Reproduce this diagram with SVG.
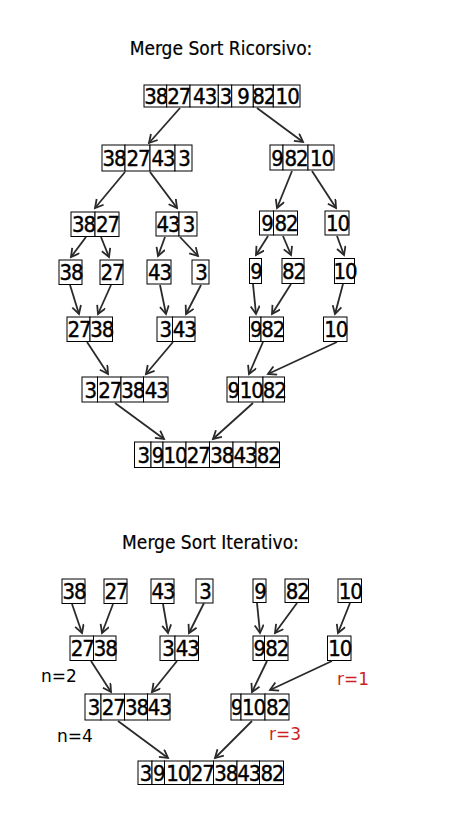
<svg xmlns="http://www.w3.org/2000/svg" width="463" height="836" viewBox="0 0 463 836">
<style>
.c{fill:#fff;stroke:#000;stroke-width:1}
.d{font-family:"DejaVu Sans Condensed","DejaVu Sans",sans-serif;font-stretch:condensed;font-size:22px;letter-spacing:-1px;fill:#000;stroke:#000;stroke-width:0.4;text-anchor:middle}
.t{font-family:"DejaVu Sans Condensed","DejaVu Sans",sans-serif;font-stretch:condensed;font-size:19px;fill:#000;stroke:#000;stroke-width:0.2;text-anchor:middle}
.l{font-family:"DejaVu Sans",sans-serif;font-size:17px;fill:#000}
.r{fill:#cc1f1f}
.a{fill:none;stroke:#2a2a2a;stroke-width:1.8;marker-end:url(#ah)}
</style>
<defs>
<marker id="ah" markerUnits="userSpaceOnUse" markerWidth="12" markerHeight="12" refX="9" refY="5" orient="auto">
<path d="M1,0.5 L9,5 L1,9.5" fill="none" stroke="#2a2a2a" stroke-width="1.8"/>
</marker>
</defs>
<rect width="463" height="836" fill="#fff"/>
<text class="t" x="221" y="55">Merge Sort Ricorsivo:</text>
<text class="t" x="210.5" y="549">Merge Sort Iterativo:</text>

<!-- Ricorsivo -->
<g id="r0">
<rect class="c" x="144" y="85" width="22.7" height="22"/><text class="d" x="155.8" y="104">38</text>
<rect class="c" x="166.7" y="85" width="23.3" height="22"/><text class="d" x="178.8" y="104">27</text>
<rect class="c" x="190" y="85" width="28.3" height="22"/><text class="d" x="204.7" y="104">43</text>
<rect class="c" x="218.3" y="85" width="13.4" height="22"/><text class="d" x="225.5" y="104">3</text>
<rect class="c" x="231.7" y="85" width="21.6" height="22"/><text class="d" x="243" y="104">9</text>
<rect class="c" x="253.3" y="85" width="20" height="22"/><text class="d" x="263.8" y="104">82</text>
<rect class="c" x="273.3" y="85" width="26.7" height="22"/><text class="d" x="287.2" y="104">10</text>
</g>
<g id="r1a">
<rect class="c" x="102" y="145" width="23" height="26"/><text class="d" x="114" y="166">38</text>
<rect class="c" x="125" y="145" width="25" height="26"/><text class="d" x="138" y="166">27</text>
<rect class="c" x="150" y="145" width="25" height="26"/><text class="d" x="163" y="166">43</text>
<rect class="c" x="175" y="145" width="17" height="26"/><text class="d" x="184" y="166">3</text>
</g>
<g id="r1b">
<rect class="c" x="270" y="145" width="13" height="25"/><text class="d" x="277" y="165.5">9</text>
<rect class="c" x="283" y="145" width="25" height="25"/><text class="d" x="296" y="165.5">82</text>
<rect class="c" x="308" y="145" width="26" height="25"/><text class="d" x="321.5" y="165.5">10</text>
</g>
<g id="r2a">
<rect class="c" x="71" y="212" width="24" height="24.5"/><text class="d" x="83.5" y="232.3">38</text>
<rect class="c" x="95" y="212" width="24" height="24.5"/><text class="d" x="107.5" y="232.3">27</text>
</g>
<g id="r2b">
<rect class="c" x="156" y="212" width="23" height="24"/><text class="d" x="168" y="232">43</text>
<rect class="c" x="179" y="212" width="18" height="24"/><text class="d" x="188.5" y="232">3</text>
</g>
<g id="r2c">
<rect class="c" x="259.5" y="211" width="14" height="24"/><text class="d" x="267" y="231">9</text>
<rect class="c" x="273.5" y="211" width="24" height="24"/><text class="d" x="286" y="231">82</text>
</g>
<g id="r2d">
<rect class="c" x="325" y="211" width="24" height="24"/><text class="d" x="337.5" y="231">10</text>
</g>
<g id="r3a"><rect class="c" x="59" y="260" width="23" height="24.5"/><text class="d" x="71" y="280.3">38</text></g>
<g id="r3b"><rect class="c" x="100" y="260" width="23" height="24.5"/><text class="d" x="112" y="280.3">27</text></g>
<g id="r3c"><rect class="c" x="147" y="260" width="24" height="24"/><text class="d" x="159.5" y="280">43</text></g>
<g id="r3d"><rect class="c" x="192" y="260" width="17" height="24"/><text class="d" x="201" y="280">3</text></g>
<g id="r3e"><rect class="c" x="249.5" y="258.5" width="12" height="25"/><text class="d" x="256" y="279">9</text></g>
<g id="r3f"><rect class="c" x="282" y="258.5" width="22" height="25"/><text class="d" x="293.5" y="279">82</text></g>
<g id="r3g"><rect class="c" x="334.5" y="258.5" width="20" height="25"/><text class="d" x="345" y="279">10</text></g>
<g id="r4a">
<rect class="c" x="67" y="317" width="23" height="24.5"/><text class="d" x="79" y="337.3">27</text>
<rect class="c" x="90" y="317" width="22.5" height="24.5"/><text class="d" x="101.8" y="337.3">38</text>
</g>
<g id="r4b">
<rect class="c" x="157" y="317" width="15.5" height="24.5"/><text class="d" x="165.3" y="337.3">3</text>
<rect class="c" x="172.5" y="317" width="22.5" height="24.5"/><text class="d" x="184.3" y="337.3">43</text>
</g>
<g id="r4c">
<rect class="c" x="249.5" y="317" width="11.5" height="24.5"/><text class="d" x="255.8" y="337.3">9</text>
<rect class="c" x="261" y="317" width="22.5" height="24.5"/><text class="d" x="272.8" y="337.3">82</text>
</g>
<g id="r4d"><rect class="c" x="323.5" y="317" width="23.5" height="24.5"/><text class="d" x="335.8" y="337.3">10</text></g>
<g id="r5a">
<rect class="c" x="82" y="377" width="15.5" height="25"/><text class="d" x="90.3" y="397.5">3</text>
<rect class="c" x="97.5" y="377" width="23.5" height="25"/><text class="d" x="109.8" y="397.5">27</text>
<rect class="c" x="121" y="377" width="22.5" height="25"/><text class="d" x="132.8" y="397.5">38</text>
<rect class="c" x="143.5" y="377" width="24.5" height="25"/><text class="d" x="156.3" y="397.5">43</text>
</g>
<g id="r5b">
<rect class="c" x="227" y="377" width="11.5" height="25"/><text class="d" x="233.3" y="397.5">9</text>
<rect class="c" x="238.5" y="377" width="24.5" height="25"/><text class="d" x="251.3" y="397.5">10</text>
<rect class="c" x="263" y="377" width="21.5" height="25"/><text class="d" x="274.3" y="397.5">82</text>
</g>
<g id="r6">
<rect class="c" x="134.5" y="442" width="16.5" height="25.5"/><text class="d" x="143.3" y="462.8">3</text>
<rect class="c" x="151" y="442" width="12" height="25.5"/><text class="d" x="157.5" y="462.8">9</text>
<rect class="c" x="163" y="442" width="23" height="25.5"/><text class="d" x="175" y="462.8">10</text>
<rect class="c" x="186" y="442" width="23.5" height="25.5"/><text class="d" x="198.3" y="462.8">27</text>
<rect class="c" x="209.5" y="442" width="23.5" height="25.5"/><text class="d" x="221.8" y="462.8">38</text>
<rect class="c" x="233" y="442" width="23" height="25.5"/><text class="d" x="245" y="462.8">43</text>
<rect class="c" x="256" y="442" width="23.5" height="25.5"/><text class="d" x="268.3" y="462.8">82</text>
</g>

<!-- Iterativo -->
<g id="i0a"><rect class="c" x="62" y="579" width="23" height="24.5"/><text class="d" x="74" y="599.3">38</text></g>
<g id="i0b"><rect class="c" x="104" y="579" width="23" height="24.5"/><text class="d" x="116" y="599.3">27</text></g>
<g id="i0c"><rect class="c" x="151" y="579" width="23" height="24.5"/><text class="d" x="163" y="599.3">43</text></g>
<g id="i0d"><rect class="c" x="196" y="579" width="17" height="24"/><text class="d" x="205" y="599">3</text></g>
<g id="i0e"><rect class="c" x="253" y="579" width="13" height="23.5"/><text class="d" x="260" y="598.8">9</text></g>
<g id="i0f"><rect class="c" x="285" y="579" width="23.5" height="23.5"/><text class="d" x="297.3" y="598.8">82</text></g>
<g id="i0g"><rect class="c" x="338" y="579" width="23.5" height="23.5"/><text class="d" x="350.3" y="598.8">10</text></g>
<g id="i1a">
<rect class="c" x="70" y="636" width="23.5" height="24.5"/><text class="d" x="82.3" y="656.3">27</text>
<rect class="c" x="93.5" y="636" width="22.5" height="24.5"/><text class="d" x="105.3" y="656.3">38</text>
</g>
<g id="i1b">
<rect class="c" x="160" y="636" width="15" height="24.5"/><text class="d" x="168" y="656.3">3</text>
<rect class="c" x="175" y="636" width="23.5" height="24.5"/><text class="d" x="187.3" y="656.3">43</text>
</g>
<g id="i1c">
<rect class="c" x="253" y="636" width="11.5" height="24.5"/><text class="d" x="259.3" y="656.3">9</text>
<rect class="c" x="264.5" y="636" width="23.5" height="24.5"/><text class="d" x="276.8" y="656.3">82</text>
</g>
<g id="i1d"><rect class="c" x="327.5" y="636" width="23.5" height="24.5"/><text class="d" x="339.8" y="656.3">10</text></g>
<g id="i2a">
<rect class="c" x="85" y="694" width="16" height="26"/><text class="d" x="93.5" y="715">3</text>
<rect class="c" x="101" y="694" width="23.5" height="26"/><text class="d" x="113.3" y="715">27</text>
<rect class="c" x="124.5" y="694" width="23" height="26"/><text class="d" x="136.5" y="715">38</text>
<rect class="c" x="147.5" y="694" width="22.5" height="26"/><text class="d" x="159.3" y="715">43</text>
</g>
<g id="i2b">
<rect class="c" x="231" y="694" width="10" height="26"/><text class="d" x="236.5" y="715">9</text>
<rect class="c" x="241" y="694" width="24" height="26"/><text class="d" x="253.5" y="715">10</text>
<rect class="c" x="265" y="694" width="24" height="26"/><text class="d" x="277.5" y="715">82</text>
</g>
<g id="i3">
<rect class="c" x="138" y="761" width="14" height="23.5"/><text class="d" x="145.5" y="780.8">3</text>
<rect class="c" x="152" y="761" width="12.5" height="23.5"/><text class="d" x="158.8" y="780.8">9</text>
<rect class="c" x="164.5" y="761" width="25.5" height="23.5"/><text class="d" x="177.8" y="780.8">10</text>
<rect class="c" x="190" y="761" width="23.5" height="23.5"/><text class="d" x="202.3" y="780.8">27</text>
<rect class="c" x="213.5" y="761" width="23.5" height="23.5"/><text class="d" x="225.8" y="780.8">38</text>
<rect class="c" x="237" y="761" width="22.5" height="23.5"/><text class="d" x="248.8" y="780.8">43</text>
<rect class="c" x="259.5" y="761" width="24" height="23.5"/><text class="d" x="272" y="780.8">82</text>
</g>
<g id="labels">
<text class="l" x="41" y="682">n=2</text>
<text class="l" x="57" y="742">n=4</text>
<text class="l r" x="337" y="685">r=1</text>
<text class="l r" x="269" y="740">r=3</text>
</g>

<g id="connectors">
<line class="a" x1="180" y1="108" x2="149" y2="143"/>
<line class="a" x1="257" y1="108" x2="303" y2="142"/>
<line class="a" x1="125" y1="172" x2="95" y2="208"/>
<line class="a" x1="150" y1="172" x2="177" y2="208"/>
<line class="a" x1="292" y1="171" x2="277" y2="208"/>
<line class="a" x1="312" y1="171" x2="336" y2="208"/>
<line class="a" x1="86" y1="237" x2="71" y2="257"/>
<line class="a" x1="101" y1="237" x2="109" y2="257"/>
<line class="a" x1="165" y1="237" x2="158" y2="256"/>
<line class="a" x1="180" y1="237" x2="198" y2="256"/>
<line class="a" x1="268" y1="236" x2="256" y2="255"/>
<line class="a" x1="283" y1="236" x2="291" y2="255"/>
<line class="a" x1="337" y1="236" x2="344" y2="255"/>
<line class="a" x1="70" y1="285" x2="79" y2="314"/>
<line class="a" x1="111" y1="285" x2="98" y2="314"/>
<line class="a" x1="160" y1="285" x2="166" y2="314"/>
<line class="a" x1="201" y1="285" x2="186" y2="314"/>
<line class="a" x1="253" y1="284" x2="256" y2="314"/>
<line class="a" x1="291" y1="284" x2="272" y2="314"/>
<line class="a" x1="343" y1="284" x2="335" y2="314"/>
<line class="a" x1="87" y1="342" x2="108" y2="374"/>
<line class="a" x1="173" y1="342" x2="146" y2="374"/>
<line class="a" x1="263" y1="342" x2="249" y2="374"/>
<line class="a" x1="337" y1="342" x2="268" y2="374"/>
<line class="a" x1="115" y1="403" x2="164" y2="439"/>
<line class="a" x1="253" y1="403" x2="213" y2="439"/>

<line class="a" x1="72" y1="604" x2="82" y2="633"/>
<line class="a" x1="113" y1="604" x2="102" y2="633"/>
<line class="a" x1="163" y1="604" x2="168" y2="633"/>
<line class="a" x1="204" y1="603" x2="189" y2="633"/>
<line class="a" x1="257" y1="603" x2="260" y2="633"/>
<line class="a" x1="297" y1="603" x2="275" y2="633"/>
<line class="a" x1="350" y1="603" x2="338" y2="633"/>
<line class="a" x1="91" y1="661" x2="111" y2="692"/>
<line class="a" x1="177" y1="661" x2="152" y2="692"/>
<line class="a" x1="267" y1="661" x2="252" y2="692"/>
<line class="a" x1="332" y1="661" x2="270" y2="690"/>
<line class="a" x1="118" y1="721" x2="168" y2="758"/>
<line class="a" x1="252" y1="721" x2="215" y2="758"/>
</g>
</svg>
